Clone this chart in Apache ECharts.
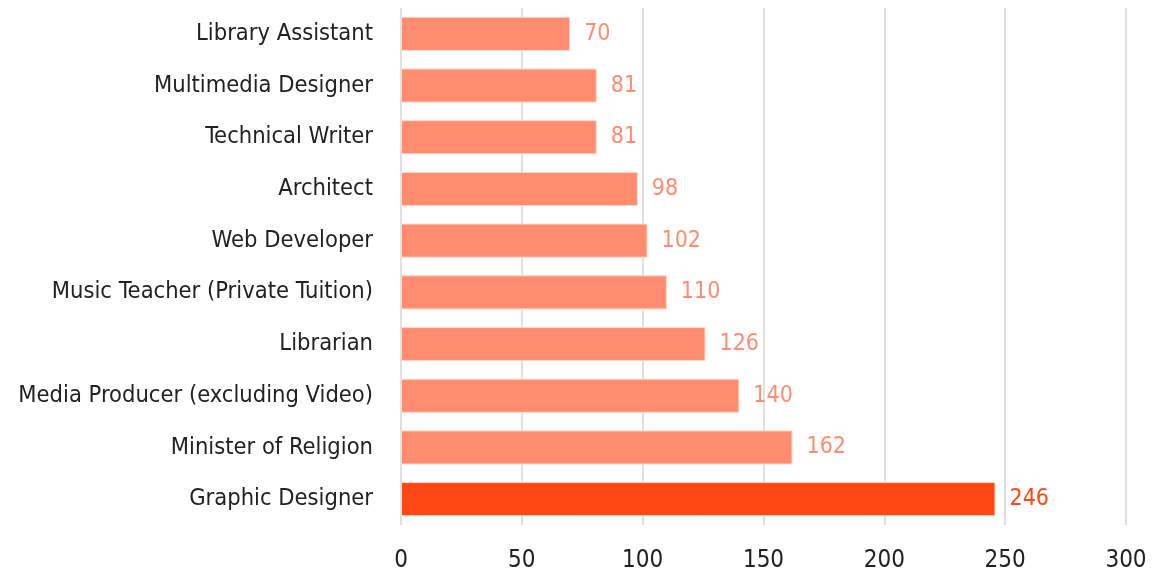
<!DOCTYPE html>
<html><head><meta charset="utf-8">
<script src="https://cdn.jsdelivr.net/npm/echarts@6/dist/echarts.min.js"></script>
<style>html,body{margin:0;padding:0;background:#fff}#c{width:1176px;height:578px}</style>
</head><body><div id="c"></div>
<script>
const categories = ["Library Assistant","Multimedia Designer","Technical Writer","Architect","Web Developer","Music Teacher (Private Tuition)","Librarian","Media Producer (excluding Video)","Minister of Religion","Graphic Designer"];
const values = [70,81,81,98,102,110,126,140,162,246];
const highlight = "Graphic Designer";
const xTicks = [0,50,100,150,200,250,300];

const FONT = "'Liberation Sans Narrow','DejaVu Sans Condensed',sans-serif";
const normal = '#FF8C6E', hi = '#FF4713';
const chart = echarts.init(document.getElementById('c'), null, {renderer:'canvas'});
chart.setOption({
  animation:false,
  grid:{left:401,right:50,top:8,bottom:53,containLabel:false,outerBoundsMode:'none'},
  xAxis:{type:'value',min:xTicks[0],max:xTicks[xTicks.length-1],interval:50,
    axisLine:{show:false},axisTick:{show:false},
    splitLine:{lineStyle:{color:'#e0e0e0',width:2}},
    axisLabel:{fontFamily:FONT,fontSize:24,color:'#222',margin:24}},
  yAxis:{type:'category',inverse:true,data:categories,
    axisLine:{show:false},axisTick:{show:false},
    axisLabel:{fontFamily:FONT,fontSize:23.5,color:'#222',margin:28}},
  series:[{type:'bar',barCategoryGap:'34%',
    data:values.map((v,i)=>({value:v,itemStyle:{color:categories[i]===highlight?hi:normal},
      label:{color:categories[i]===highlight?hi:normal}})),
    itemStyle:{borderColor:'#ffd9cc',borderWidth:1},
    label:{show:true,position:'right',distance:14,fontFamily:FONT,fontSize:23}}]
});
</script></body></html>
